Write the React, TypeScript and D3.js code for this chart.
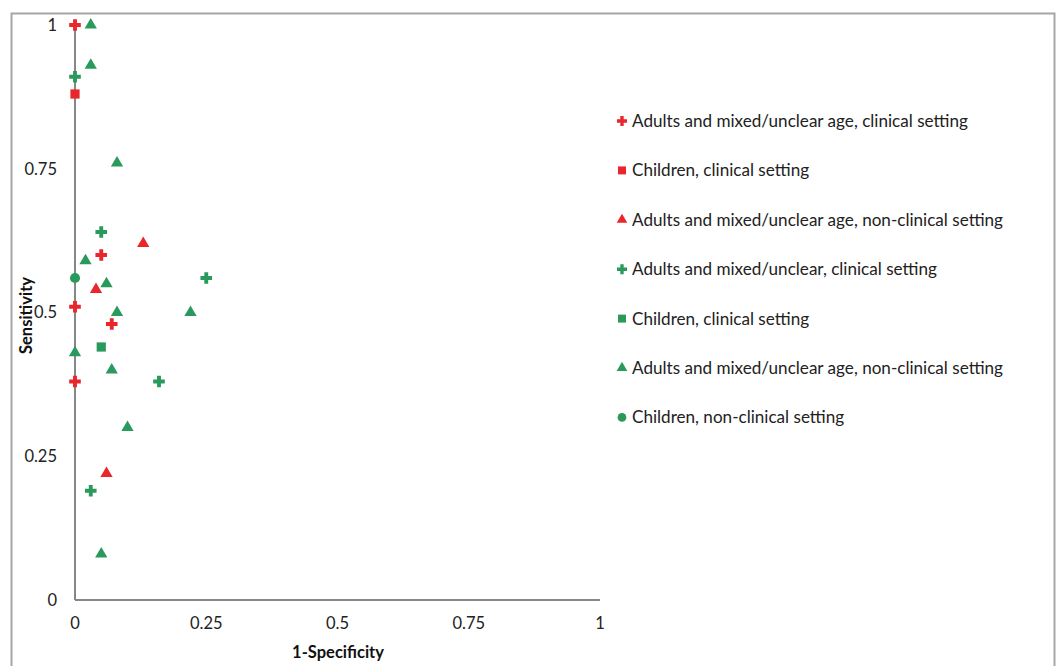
import React from "react";
import * as d3 from "d3";

const seriesNames = [
  "Adults and mixed/unclear age, clinical setting",
  "Children, clinical setting",
  "Adults and mixed/unclear age, non-clinical setting",
  "Adults and mixed/unclear, clinical setting",
  "Children, clinical setting",
  "Adults and mixed/unclear age, non-clinical setting",
  "Children, non-clinical setting",
];
const seriesColors = ["red", "red", "red", "green", "green", "green", "green"];
const seriesShapes = ["cross", "square", "triangle", "cross", "square", "triangle", "circle"];

// [1-specificity, sensitivity]
const redAdultsClinical: [number, number][] = [[0, 1], [0.05, 0.6], [0, 0.51], [0.07, 0.48], [0, 0.38]];
const redChildrenClinical: [number, number][] = [[0, 0.88]];
const redAdultsNonClinical: [number, number][] = [[0.13, 0.62], [0.04, 0.54], [0.06, 0.22]];
const greenAdultsClinical: [number, number][] = [[0, 0.91], [0.05, 0.64], [0.25, 0.56], [0.16, 0.38], [0.03, 0.19]];
const greenChildrenClinical: [number, number][] = [[0.05, 0.44]];
const greenAdultsNonClinical: [number, number][] = [
  [0.03, 1], [0.03, 0.93], [0.08, 0.76], [0.02, 0.59], [0.06, 0.55], [0.08, 0.5],
  [0.22, 0.5], [0, 0.43], [0.07, 0.4], [0.1, 0.3], [0.05, 0.08],
];
const greenChildrenNonClinical: [number, number][] = [[0, 0.56]];

const seriesData = [
  redAdultsClinical, redChildrenClinical, redAdultsNonClinical,
  greenAdultsClinical, greenChildrenClinical, greenAdultsNonClinical, greenChildrenNonClinical,
];
const xTicks = [0, 0.25, 0.5, 0.75, 1];
const yTicks = [0, 0.25, 0.5, 0.75, 1];

const COLORS: Record<string, string> = { red: "#e8262b", green: "#2a9a5c" };
const FONT = "Lato, 'Liberation Sans', Arial, sans-serif";

function symbolPath(shape: string, size: number) {
  const t =
    shape === "cross" ? d3.symbolCross :
    shape === "square" ? d3.symbolSquare :
    shape === "triangle" ? d3.symbolTriangle : d3.symbolCircle;
  return d3.symbol().type(t).size(size)() as string;
}
const sizeFor = (s: string) => (s === "cross" ? 75 : s === "square" ? 85 : s === "triangle" ? 65 : 80);

export default function App() {
  const W = 1056, H = 666;
  const x = d3.scaleLinear().domain([0, 1]).range([75, 600]);
  const y = d3.scaleLinear().domain([0, 1]).range([600, 25]);
  const legendY = (i: number) => 121 + i * 49.4;

  return (
    <svg width={W} height={H} style={{ position: "absolute", left: 0, top: 0 }} fontFamily={FONT}>
      <rect x={0} y={0} width={W} height={H} fill="#fff" />
      <rect x={11.5} y={13.5} width={1043} height={670} fill="none" stroke="#a6a6a6" strokeWidth={2} />
      <line x1={x(0)} x2={x(0)} y1={y(1)} y2={y(0)} stroke="#878787" strokeWidth={2} />
      <line x1={x(0)} x2={x(1)} y1={y(0)} y2={y(0)} stroke="#878787" strokeWidth={2} />
      {yTicks.map((t) => (
        <text key={"y" + t} x={57} y={y(t)} dy="0.35em" textAnchor="end" fontSize={16.5} fill="#222">
          {d3.format("")(t)}
        </text>
      ))}
      {xTicks.map((t) => (
        <text key={"x" + t} x={x(t)} y={629} textAnchor="middle" fontSize={16.5} fill="#222">
          {d3.format("")(t)}
        </text>
      ))}
      <text x={338} y={658} textAnchor="middle" fontSize={16.5} fontWeight="bold" fill="#111">1-Specificity</text>
      <text transform={`translate(32,${y(0.5) + 3}) rotate(-90)`} textAnchor="middle" fontSize={16.5} fontWeight="bold" fill="#111">Sensitivity</text>
      {seriesData.map((pts, si) =>
        pts.map((p, j) => (
          <path
            key={si + "-" + j}
            d={symbolPath(seriesShapes[si], sizeFor(seriesShapes[si]))}
            transform={`translate(${x(p[0])},${y(p[1])})`}
            fill={COLORS[seriesColors[si]]}
          />
        ))
      )}
      {seriesNames.map((n, i) => (
        <g key={"l" + i} transform={`translate(622,${legendY(i)})`}>
          <path d={symbolPath(seriesShapes[i], sizeFor(seriesShapes[i]) * 0.75)} fill={COLORS[seriesColors[i]]} />
          <text x={10} dy="0.35em" fontSize={17.1} fill="#222">{n}</text>
        </g>
      ))}
    </svg>
  );
}
